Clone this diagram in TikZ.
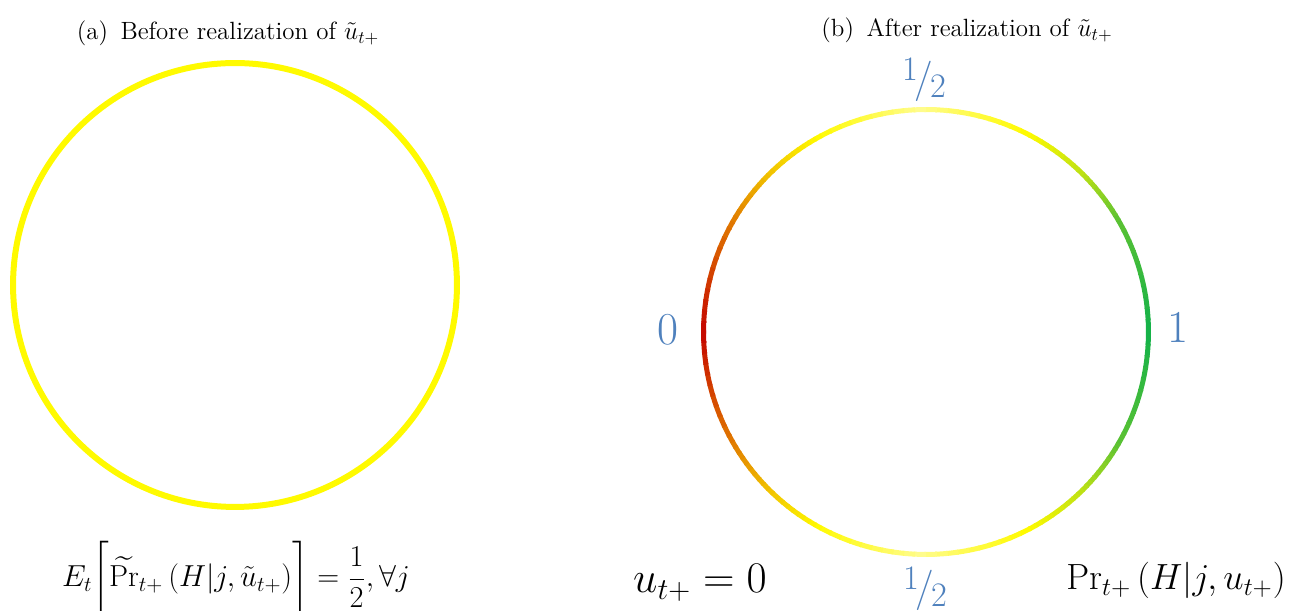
\documentclass[tikz,border=0pt]{standalone}
\usepackage{amsmath, amssymb}
\usepackage{graphicx}
\usetikzlibrary{calc}

\definecolor{sideblue}{RGB}{79,129,189}
\definecolor{ringgreen}{RGB}{22,178,72}
\definecolor{ringgrass}{RGB}{95,195,50}
\definecolor{ringlime}{RGB}{190,225,20}
\definecolor{ringyellow}{RGB}{255,250,0}
\definecolor{ringpale}{RGB}{255,252,140}
\definecolor{ringamber}{RGB}{240,190,0}
\definecolor{ringorange}{RGB}{222,110,0}
\definecolor{ringred}{RGB}{195,0,0}

\newcommand{\halfslash}{\raisebox{0.28em}{\scalebox{0.85}{1}}\kern-0.08em/\kern-0.08em\raisebox{-0.14em}{\scalebox{0.85}{2}}}

\begin{document}
\begin{tikzpicture}[
    x=0.02cm, y=0.02cm,
    title/.style={font=\fontsize{14.2}{17}\selectfont, inner sep=0pt},
    formula/.style={font=\fontsize{18}{22}\selectfont, inner sep=0pt, anchor=base},
    biglabel/.style={font=\fontsize{24.5}{28}\selectfont, inner sep=0pt, anchor=base},
    tick/.style={font=\fontsize{26}{30}\selectfont, text=sideblue, inner sep=0pt},
    half/.style={font=\fontsize{23}{27}\selectfont, text=sideblue, inner sep=0pt},
    ring before/.style={draw=ringyellow, line width=0.12cm},
    ring after/.style={line width=0.1cm}
]
\useasboundingbox (0,0) rectangle (1292,611);

% ---------------- Circles ----------------
\coordinate (before) at (235,326);
\coordinate (after)  at (926,279);

\draw[ring before] (before) circle[radius=4.44cm];

\foreach \pa/\pb/\ca/\cb in {0/30/ringgreen/ringgrass, 30/45/ringgrass/ringlime,
    45/62/ringlime/ringyellow, 62/90/ringyellow/ringpale, 90/118/ringpale/ringyellow,
    118/135/ringyellow/ringamber, 135/152/ringamber/ringorange, 152/180/ringorange/ringred}{
  \foreach \k in {0,...,9}{
    \pgfmathtruncatemacro{\mix}{10*\k}
    \pgfmathsetmacro{\angA}{\pa+(\pb-\pa)*\k/10}
    \pgfmathsetmacro{\angB}{\pa+(\pb-\pa)*(\k+1)/10+0.4}
    \draw[ring after, draw=\cb!\mix!\ca] ($(after)+(\angA:4.45cm)$)
        arc[start angle=\angA, end angle=\angB, radius=4.45cm];
    \draw[ring after, draw=\cb!\mix!\ca] ($(after)+(-\angA:4.45cm)$)
        arc[start angle=-\angA, end angle=-\angB, radius=4.45cm];
  }
}

% ---------------- Titles ----------------
\node[title] (titleA) at (228,578) {(a)\enspace Before realization of $\tilde{u}_{t+}$};
\node[title] (titleB) at (967,581) {(b)\enspace After realization of $\tilde{u}_{t+}$};

% ---------------- Labels ----------------
\node[half] (top)    at (924,531) {\halfslash};
\node[half] (bottom) at (925,22)  {\halfslash};
\node[tick] (zero)   at (668,281) {0};
\node[tick] (one)    at (1178,284) {1};

\node[formula] (expect) at (236,24)
    {$E_t\biggl[\widetilde{\Pr}_{t+}\left(H|j,\tilde{u}_{t+}\right)\biggr]=\dfrac{1}{2},\forall j$};
\node[biglabel] (ucase) at (700,18) {$u_{t+}=0$};
\node[biglabel, font=\fontsize{21}{25}\selectfont] (prob) at (1176,21)
    {$\Pr_{t+}\left(H|j,u_{t+}\right)$};

\end{tikzpicture}
\end{document}
